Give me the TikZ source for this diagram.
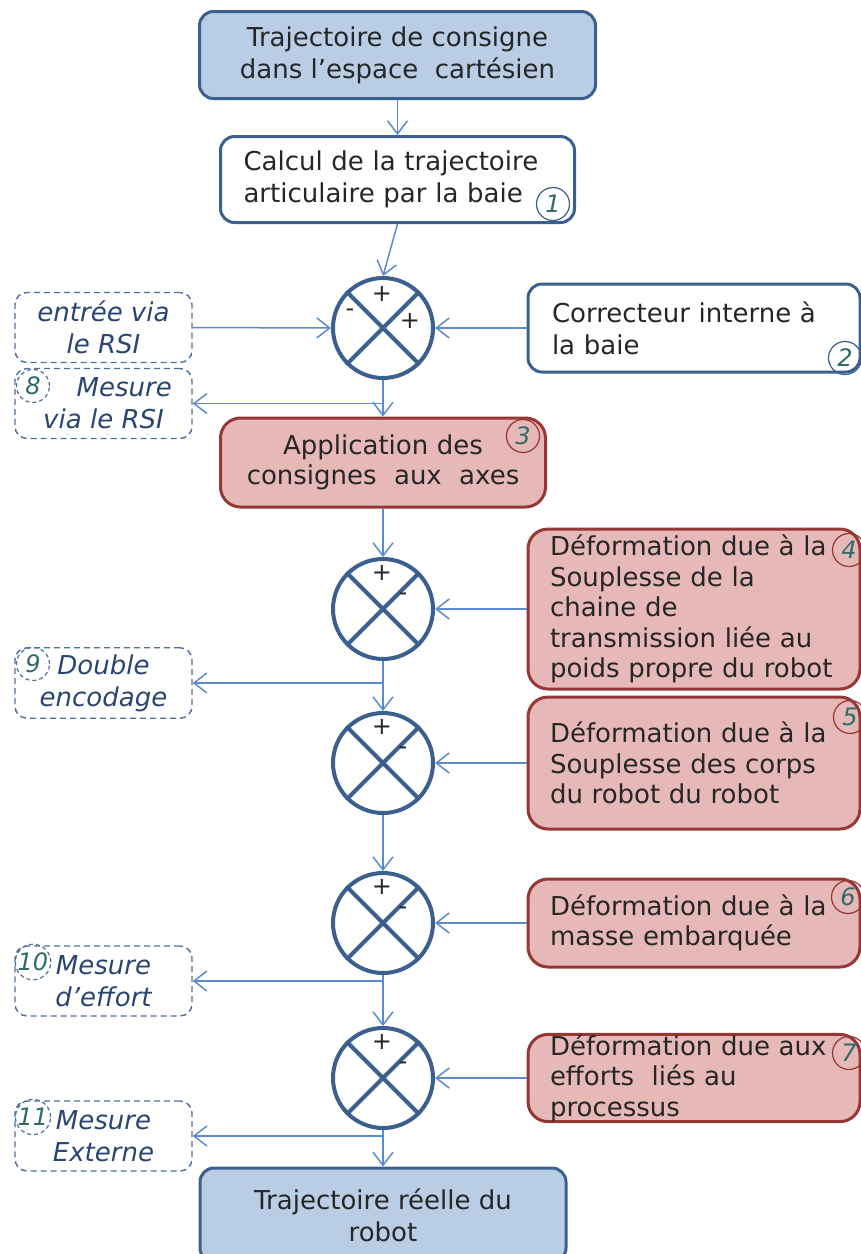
\documentclass[tikz,border=0pt]{standalone}
\usepackage{fontspec}
\setmainfont{DejaVu Sans}
\usepackage{tikz}
\usetikzlibrary{arrows.meta}
\definecolor{bleuF}{HTML}{B9CDE5}
\definecolor{bleuT}{HTML}{3B5F8F}
\definecolor{roseF}{HTML}{E6B9B8}
\definecolor{rougeT}{HTML}{953735}
\definecolor{fleche}{HTML}{5B8BCF}
\definecolor{tirets}{HTML}{4F6E98}
\definecolor{texteM}{HTML}{2A4670}
\definecolor{sarcelle}{HTML}{2E6B6B}

\begin{document}
\begin{tikzpicture}[
  x=0.5pt,y=-0.5pt,
  traj/.style={rectangle,draw=bleuT,fill=bleuF,line width=1.5pt,rounded corners=7pt,
               minimum width=198pt,minimum height=43.5pt,
               font=\fontsize{13}{16}\selectfont,text=black!85,align=center},
  calc/.style={rectangle,draw=bleuT,fill=white,line width=1.5pt,rounded corners=7pt,
               minimum height=43pt,inner xsep=11.5pt,
               font=\fontsize{13}{16}\selectfont,text=black!85,align=left},
  defo/.style={rectangle,draw=rougeT,fill=roseF,line width=1.5pt,rounded corners=10pt,
               inner xsep=11pt,inner ysep=2pt,text width=144pt,
               font=\fontsize{13}{15.25}\selectfont,text=black!85,align=left},
  mes/.style ={rectangle,draw=tirets,dash pattern=on 3pt off 2pt,line width=0.7pt,
               rounded corners=6pt,minimum width=88.5pt,minimum height=35pt,
               font=\fontsize{13}{16}\selectfont\itshape,text=texteM,align=center},
  som/.style ={circle,draw=bleuT,line width=2pt,minimum size=50pt,inner sep=0pt},
  sgn/.style ={font=\fontsize{12}{12}\selectfont,text=black!85,inner sep=0pt},
  num/.style ={circle,draw=bleuT,line width=0.6pt,minimum size=16.5pt,inner sep=0pt,
               font=\fontsize{12}{12}\selectfont\itshape,text=sarcelle},
  numd/.style={num,draw=tirets,dash pattern=on 2pt off 1.5pt},
  ar/.style  ={-{Straight Barb[length=6.5pt,width=10pt]},line width=0.75pt,draw=fleche}
]
\useasboundingbox (0,0) rectangle (861,1254);
% colonne principale
\node[traj] (tc) at (397.5,55) {Trajectoire de consigne\\dans l’espace~~cartésien};
\node[calc,text width=154pt,minimum width=177pt] (cal) at (397.5,179.5)
  {Calcul de la trajectoire\\articulaire par la baie};
\node[num] (n1) at (553,204) {1};
\node[som] (s1) at (383,328) {};
\node[defo,text width=140.5pt,align=center,minimum height=44.5pt] (app) at (383,462.5)
  {Application des\\consignes~~aux~~axes};
\node[num,draw=rougeT] (n3) at (523,436) {3};
\node[som] (s2) at (383,609) {};
\node[som] (s3) at (383,763) {};
\node[som] (s4) at (383,923) {};
\node[som] (s5) at (383,1078) {};
\node[traj,minimum width=183pt,minimum height=47pt] (tr) at (383,1215)
  {Trajectoire réelle du\\robot};
% blocs de droite
\node[calc,text width=142pt,minimum width=166pt,minimum height=44pt] (cor) at (694,328)
  {Correcteur interne à\\la baie};
\node[num] (n2) at (845,358) {2};
\node[defo,minimum height=80pt] (d4) at (694,609)
  {Déformation due à la\\Souplesse de la\\chaine de\\transmission liée au\\poids propre du robot};
\node[num,draw=rougeT] (n4) at (849,550) {4};
\node[defo,minimum height=66pt] (d5) at (694,763)
  {Déformation due à la\\Souplesse des corps\\du robot du robot};
\node[num,draw=rougeT] (n5) at (850,717) {5};
\node[defo,minimum height=44pt] (d6) at (694,923)
  {Déformation due à la\\masse embarquée};
\node[num,draw=rougeT] (n6) at (848,897) {6};
\node[defo,minimum height=43.5pt,inner ysep=0pt] (d7) at (694,1078)
  {Déformation due aux\\efforts~~liés au\\processus};
\node[num,draw=rougeT] (n7) at (849,1053) {7};
% mesures a gauche
\node[mes] (rsi) at (103.5,327.5) {entrée via\\le RSI};
\node[mes] (m8) at (103.5,403.5) {\hspace*{1.6em}Mesure\\via le RSI};
\node[numd] (n8) at (33,386) {8};
\node[mes] (m9) at (103.5,683) {Double\\encodage};
\node[numd] (n9) at (33,664) {9};
\node[mes] (m10) at (103.5,981) {Mesure\\d’effort};
\node[numd] (n10) at (33,962) {10};
\node[mes] (m11) at (103.5,1136) {Mesure\\Externe};
\node[numd] (n11) at (33,1117) {11};
% sommateurs
\foreach \s in {s1,s2,s3,s4,s5}
  \draw[bleuT,line width=2pt] (\s.north west) -- (\s.south east)
                              (\s.north east) -- (\s.south west);
\node[sgn] (pl1) at ([shift={(-1,-34)}]s1.center) {+};
\node[sgn] (mo1) at ([shift={(-33,-15)}]s1.center) {-};
\node[sgn] (pr1) at ([shift={(27,-7)}]s1.center) {+};
\foreach \s in {2,...,5}{
  \node[sgn] (pl\s) at ([shift={(-1,-36)}]s\s.center) {+};
  \node[sgn] (mo\s) at ([shift={(20,-12)}]s\s.center) {-};
}
% liaisons
\draw[ar] (tc.south) -- (cal.north);
\draw[ar] (cal.south) -- (s1.north);
\draw[ar] (rsi.east) -- (s1.west);
\draw[ar] (cor.west) -- (s1.east);
\draw[ar] (s1.south) -- (app.north);
\draw[ar] (m8.east -| s1.south) -- (m8.east);
\foreach \a/\b in {app/s2,s2/s3,s3/s4,s4/s5,s5/tr}
  \draw[ar] (\a.south) -- (\b.north);
\foreach \d/\s in {d4/s2,d5/s3,d6/s4,d7/s5}
  \draw[ar] (\d.west) -- (\s.east);
\foreach \m/\s in {m9/s2,m10/s4,m11/s5}
  \draw[ar] (\m.east -| \s.south) -- (\m.east);
\end{tikzpicture}
\end{document}
